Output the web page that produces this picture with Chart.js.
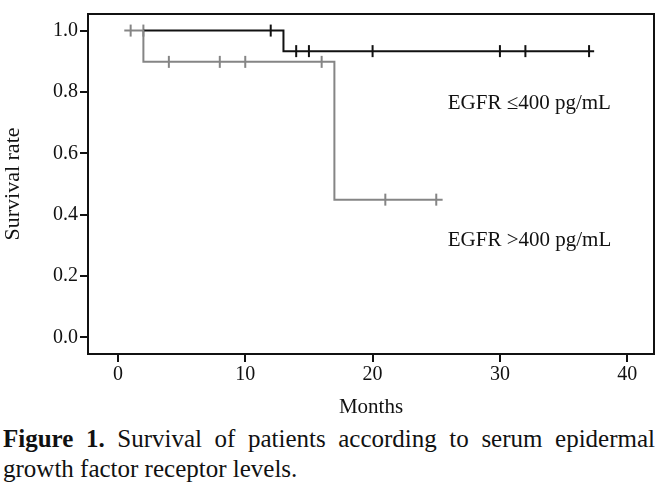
<!DOCTYPE html>
<html>
<head>
<meta charset="utf-8">
<script src="https://cdn.jsdelivr.net/npm/chart.js@4.4.0/dist/chart.umd.min.js"></script>
<style>
    body { margin: 0; background: #fff; overflow: hidden; }
    #wrap { width: 662px; height: 420px; }
    #caption {
        width: 652px;
        margin: 4px 0 0 3px;
        font-family: "Liberation Serif", "Times New Roman", serif;
        font-size: 25px;
        line-height: 30px;
        color: #111;
    }
    #caption .first { text-align: justify; text-align-last: justify; white-space: nowrap; }
</style>
</head>
<body>
<div id="wrap"><canvas id="kmChart" width="662" height="420"></canvas></div>
<div id="caption">
    <div class="first"><b>Figure 1.</b> Survival of patients according to serum epidermal</div>
    <div>growth factor receptor levels.</div>
</div>
<script>
// survival steps (months, survival rate)
const lowMonths = [2, 13, 37.4];
const lowSurvival = [1.0, 0.933, 0.933];
const highMonths = [0.5, 2, 17, 25.5];
const highSurvival = [1.0, 0.898, 0.449, 0.449];

// censored observations
const lowCensorMonths = [12, 14, 15, 20, 30, 32, 37];
const lowCensorSurvival = [1.0, 0.933, 0.933, 0.933, 0.933, 0.933, 0.933];
const highCensorMonths = [1, 2, 4, 8, 10, 16, 21, 25];
const highCensorSurvival = [1.0, 1.0, 0.898, 0.898, 0.898, 0.898, 0.449, 0.449];

const xTicks = [0, 10, 20, 30, 40];
const yTicks = [0, 0.2, 0.4, 0.6, 0.8, 1.0];

const groupLabels = ["EGFR \u2264400 pg/mL", "EGFR >400 pg/mL"];
const labelPos = [[25.9, 0.762], [25.9, 0.317]];

const serif = "'Liberation Serif', 'Times New Roman', serif";
const black = "#111111";
const gray = "#858585";

function toPoints(xs, ys) {
    return xs.map((x, i) => ({ x: x, y: ys[i] }));
}

// frame around plot area + group labels
const framePlugin = {
    id: "frame",
    afterDraw(chart) {
        const ctx = chart.ctx;
        const a = chart.chartArea;
        ctx.save();
        ctx.strokeStyle = black;
        ctx.lineWidth = 2;
        ctx.strokeRect(a.left, a.top, a.right - a.left, a.bottom - a.top);
        ctx.fillStyle = black;
        ctx.font = "21px " + serif;
        ctx.textBaseline = "middle";
        ctx.textAlign = "left";
        groupLabels.forEach((t, i) => {
            const px = chart.scales.x.getPixelForValue(labelPos[i][0]);
            const py = chart.scales.y.getPixelForValue(labelPos[i][1]);
            ctx.fillText(t, px, py);
        });
        ctx.restore();
    }
};

const ctx = document.getElementById("kmChart").getContext("2d");

new Chart(ctx, {
    type: "line",
    data: {
        datasets: [
            {
                label: "high",
                data: toPoints(highMonths, highSurvival),
                borderColor: gray,
                borderWidth: 2,
                stepped: true,
                pointRadius: 0,
                fill: false
            },
            {
                label: "low",
                data: toPoints(lowMonths, lowSurvival),
                borderColor: black,
                borderWidth: 2,
                stepped: true,
                pointRadius: 0,
                fill: false
            },
            {
                label: "high censored",
                type: "scatter",
                data: toPoints(highCensorMonths, highCensorSurvival),
                pointStyle: "line",
                rotation: 90,
                pointRadius: 6,
                borderColor: gray,
                borderWidth: 2,
                showLine: false
            },
            {
                label: "low censored",
                type: "scatter",
                data: toPoints(lowCensorMonths, lowCensorSurvival),
                pointStyle: "line",
                rotation: 90,
                pointRadius: 6,
                borderColor: black,
                borderWidth: 2,
                showLine: false
            }
        ]
    },
    options: {
        responsive: false,
        animation: false,
        layout: { padding: { top: 5, right: 7, left: 0, bottom: 0 } },
        plugins: {
            legend: { display: false },
            tooltip: { enabled: false }
        },
        scales: {
            x: {
                type: "linear",
                min: -2.35,
                max: 42.1,
                afterFit(scale) { scale.height = 66; },
                afterBuildTicks(scale) { scale.ticks = xTicks.map(v => ({ value: v })); },
                border: { display: false },
                grid: { drawOnChartArea: false, drawTicks: true, tickLength: 8, color: black, lineWidth: 2 },
                ticks: { color: black, padding: 1, font: { family: serif, size: 20 } },
                title: { display: true, text: "Months", color: black, padding: { top: 0, bottom: 0 }, font: { family: serif, size: 21 } }
            },
            y: {
                type: "linear",
                min: -0.054,
                max: 1.054,
                afterFit(scale) { scale.width = 88; },
                afterBuildTicks(scale) { scale.ticks = yTicks.map(v => ({ value: v })); },
                border: { display: false },
                grid: { drawOnChartArea: false, drawTicks: true, tickLength: 8, color: black, lineWidth: 2 },
                ticks: { color: black, padding: 2, font: { family: serif, size: 20 }, callback: v => v.toFixed(1) },
                title: { display: true, text: "Survival rate", color: black, padding: { top: 0, bottom: 0 }, font: { family: serif, size: 22 } }
            }
        }
    },
    plugins: [framePlugin]
});
</script>
</body>
</html>
